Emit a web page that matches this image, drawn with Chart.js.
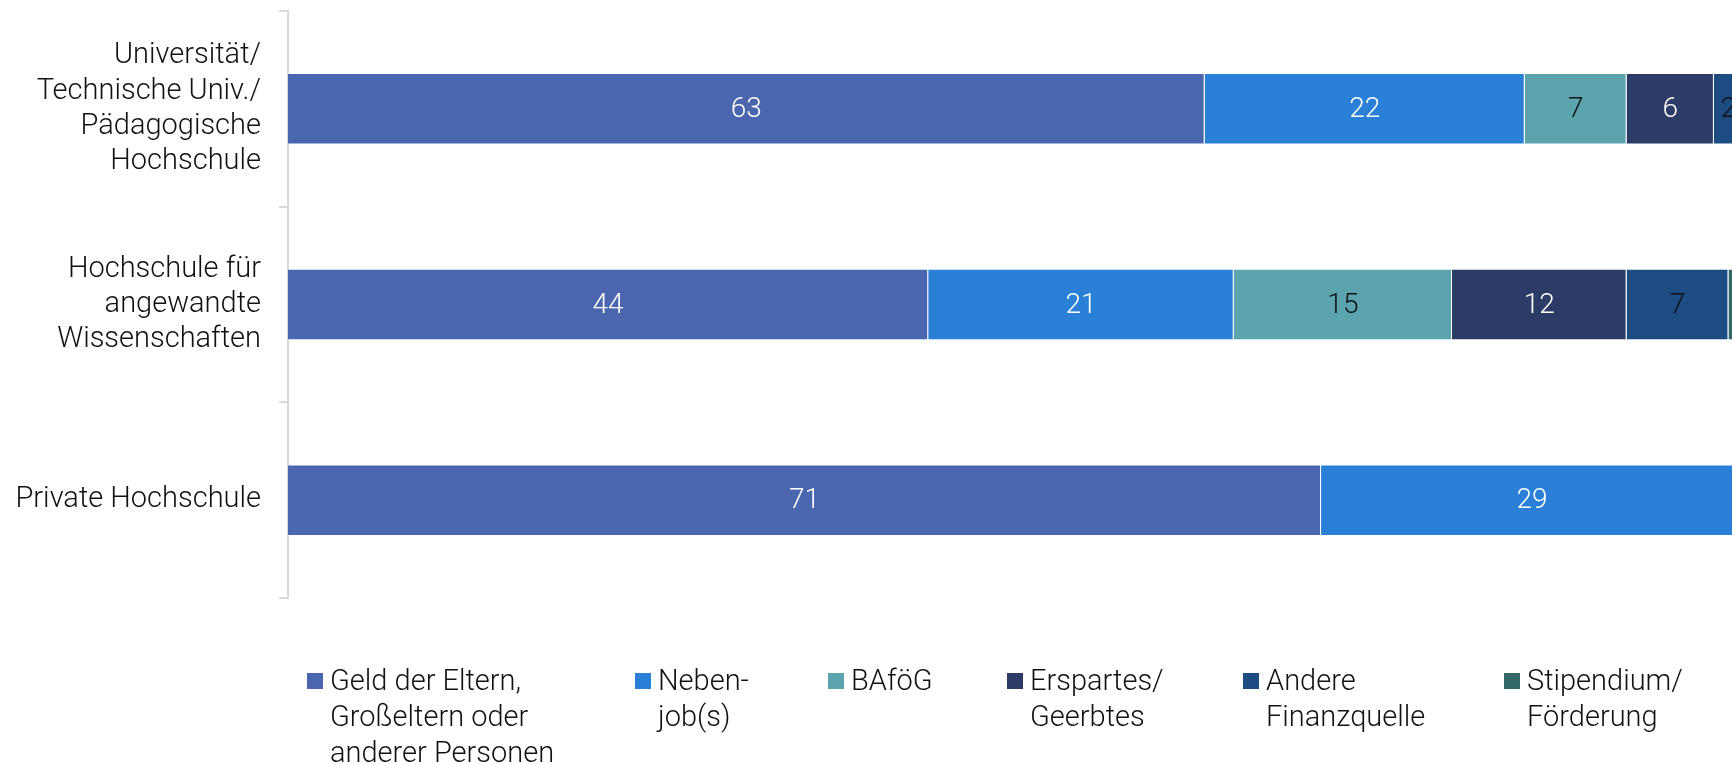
<!DOCTYPE html>
<html lang="de">
<head>
<meta charset="utf-8">
<title>Finanzierung des Studiums nach Hochschulart</title>
<script src="https://cdn.jsdelivr.net/npm/chart.js@4/dist/chart.umd.min.js"></script>
<style>
    html, body {
        margin: 0;
        padding: 0;
        width: 1732px;
        height: 764px;
        overflow: hidden;
        background: #ffffff;
        font-family: Roboto, "Noto Sans", sans-serif;
        font-weight: 300;
    }
    #chart-wrap {
        position: absolute;
        left: 0;
        top: 0;
        width: 1746px;
        height: 620px;
    }
    #legend {
        position: absolute;
        left: 0;
        top: 0;
        width: 1732px;
        height: 764px;
        pointer-events: none;
    }
    .legend-item {
        position: absolute;
        top: 662px;
        display: flex;
        align-items: flex-start;
        font-size: 29px;
        line-height: 36px;
        color: #111111;
    }
    .legend-box {
        width: 16px;
        height: 16px;
        margin-top: 11px;
        margin-right: 7px;
        flex: none;
    }
</style>
</head>
<body>
<div id="chart-wrap"><canvas id="finance-chart"></canvas></div>
<div id="legend"></div>

<script>
// Hochschularten (Zeilen)
const categories = [
    ['Universität/', 'Technische Univ./', 'Pädagogische', 'Hochschule'],
    ['Hochschule für', 'angewandte', 'Wissenschaften'],
    'Private Hochschule'
];

// Anteile in Prozent je Finanzquelle
const geldEltern  = [63, 44, 71];
const nebenjob    = [22, 21, 29];
const bafoeg      = [7, 15, 0];
const erspartes   = [6, 12, 0];
const andere      = [2, 7, 0];
const stipendium  = [0, 2, 0];

const seriesLabels = [
    ['Geld der Eltern,', 'Großeltern oder', 'anderer Personen'],
    ['Neben-', 'job(s)'],
    ['BAföG'],
    ['Erspartes/', 'Geerbtes'],
    ['Andere', 'Finanzquelle'],
    ['Stipendium/', 'Förderung']
];

const seriesValues = [geldEltern, nebenjob, bafoeg, erspartes, andere, stipendium];
const seriesColors = ['#4a66ae', '#2a80d7', '#5ba4ae', '#2d3c66', '#1c4c82', '#346868'];
const labelColors  = ['#ffffff', '#ffffff', '#111111', '#ffffff', '#111111', '#111111'];
const legendLeft   = [307, 635, 828, 1007, 1243, 1504];

const FONT = 'Roboto, "Noto Sans", sans-serif';

// Zahlen mittig in die Balkensegmente schreiben
const barValueLabels = {
    id: 'barValueLabels',
    afterDatasetsDraw(chart) {
        const ctx = chart.ctx;
        ctx.save();
        ctx.font = '300 28px ' + FONT;
        ctx.textAlign = 'center';
        ctx.textBaseline = 'middle';
        chart.data.datasets.forEach((ds, i) => {
            const meta = chart.getDatasetMeta(i);
            meta.data.forEach((bar, j) => {
                const v = ds.data[j];
                if (!v) return;
                ctx.fillStyle = labelColors[i];
                ctx.fillText(String(v), (bar.x + bar.base) / 2, bar.y + 1);
            });
        });
        ctx.restore();
    }
};

const datasets = seriesValues.map((values, i) => ({
    label: seriesLabels[i].join(' '),
    data: values,
    backgroundColor: seriesColors[i],
    borderColor: 'rgba(255, 255, 255, 0.25)',
    borderWidth: 1,
    categoryPercentage: 1.0,
    barPercentage: 0.365
}));

const ctx = document.getElementById('finance-chart').getContext('2d');

new Chart(ctx, {
    type: 'bar',
    data: {
        labels: categories,
        datasets: datasets
    },
    options: {
        indexAxis: 'y',
        responsive: true,
        maintainAspectRatio: false,
        animation: false,
        layout: {
            padding: { top: 11, bottom: 22, left: 0, right: 3 }
        },
        plugins: {
            legend: { display: false },
            tooltip: { enabled: false }
        },
        scales: {
            x: {
                stacked: true,
                min: 0,
                max: 100,
                display: false
            },
            y: {
                stacked: true,
                // feste Achsenbreite, keine Extra-Abstände durch mehrzeilige Beschriftungen
                afterFit: (scale) => {
                    scale.width = 288;
                    scale.paddingTop = 0;
                    scale.paddingBottom = 0;
                },
                grid: {
                    offset: true,
                    drawOnChartArea: false,
                    drawTicks: true,
                    tickLength: 9,
                    color: '#d9d9d9',
                    lineWidth: 2
                },
                border: {
                    display: true,
                    color: '#d9d9d9',
                    width: 2
                },
                ticks: {
                    color: '#111111',
                    padding: 18,
                    font: { family: FONT, size: 29, weight: '300', lineHeight: 1.21 }
                }
            }
        }
    },
    plugins: [barValueLabels]
});

// Legende mit mehrzeiligen Beschriftungen
const legendEl = document.getElementById('legend');
seriesLabels.forEach((lines, i) => {
    const item = document.createElement('div');
    item.className = 'legend-item';
    item.style.left = legendLeft[i] + 'px';
    const box = document.createElement('div');
    box.className = 'legend-box';
    box.style.background = seriesColors[i];
    const text = document.createElement('div');
    text.innerHTML = lines.join('<br>');
    item.appendChild(box);
    item.appendChild(text);
    legendEl.appendChild(item);
});
</script>
</body>
</html>
